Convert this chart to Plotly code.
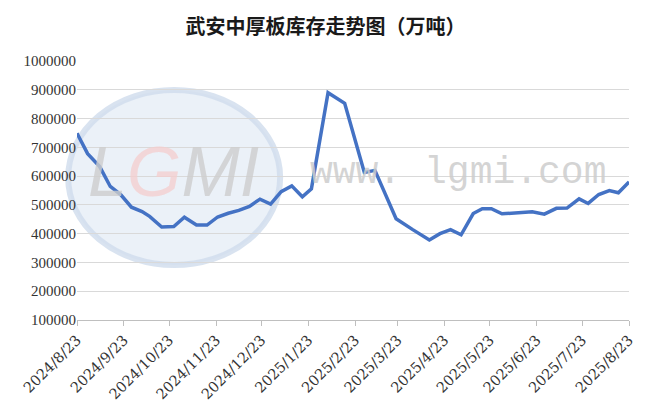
import plotly.graph_objects as go

title_text = "武安中厚板库存走势图（万吨）"

dates = [
    "2024-08-23", "2024-08-30", "2024-09-07", "2024-09-14", "2024-09-21", "2024-09-28",
    "2024-10-05", "2024-10-10", "2024-10-18", "2024-10-26", "2024-11-02", "2024-11-10",
    "2024-11-17", "2024-11-24", "2024-12-01", "2024-12-08", "2024-12-15", "2024-12-22",
    "2024-12-29", "2025-01-05", "2025-01-12", "2025-01-19", "2025-01-25", "2025-02-05",
    "2025-02-16", "2025-03-01", "2025-03-08", "2025-03-22", "2025-04-02", "2025-04-13",
    "2025-04-20", "2025-04-27", "2025-05-04", "2025-05-12", "2025-05-18", "2025-05-24",
    "2025-05-31", "2025-06-10", "2025-06-20", "2025-06-28", "2025-07-06", "2025-07-13",
    "2025-07-21", "2025-07-27", "2025-08-03", "2025-08-10", "2025-08-16", "2025-08-23",
]

inventory = [
    749000, 678000, 633000, 564000, 535000, 492000,
    477000, 460000, 423000, 425000, 457000, 430000,
    430000, 458000, 471000, 481000, 495000, 520000,
    503000, 546000, 566000, 528000, 556000, 890000,
    853000, 613000, 620000, 452000, 414000, 378000,
    400000, 414000, 396000, 470000, 487000, 487000,
    469000, 472000, 476000, 468000, 488000, 489000,
    521000, 505000, 536000, 550000, 542000, 580000,
]

tick_dates = [
    "2024-08-23", "2024-09-23", "2024-10-23", "2024-11-23", "2024-12-23", "2025-01-23",
    "2025-02-23", "2025-03-23", "2025-04-23", "2025-05-23", "2025-06-23", "2025-07-23",
    "2025-08-23",
]
tick_labels = [
    "2024/8/23", "2024/9/23", "2024/10/23", "2024/11/23", "2024/12/23", "2025/1/23",
    "2025/2/23", "2025/3/23", "2025/4/23", "2025/5/23", "2025/6/23", "2025/7/23",
    "2025/8/23",
]

y_ticks = [100000, 200000, 300000, 400000, 500000, 600000, 700000, 800000, 900000, 1000000]

fig = go.Figure()
fig.add_trace(go.Scatter(
    x=dates, y=inventory, mode="lines",
    line=dict(color="#4472C4", width=3.5),
    showlegend=False, hoverinfo="x+y",
))

# watermark (decorative)
fig.add_shape(type="circle", xref="paper", yref="paper",
              x0=-0.016, x1=0.368, y0=0.212, y1=0.888,
              fillcolor="rgba(222,231,243,0.6)",
              line=dict(color="rgba(208,220,236,0.8)", width=6), layer="below")
fig.add_annotation(xref="paper", yref="paper", x=0.175, y=0.57,
                   xanchor="center", yanchor="middle",
                   text="<i>L<span style='color:rgba(245,205,205,0.95)'>G</span>MI</i>",
                   showarrow=False,
                   font=dict(family="Liberation Sans", size=70, color="rgba(205,205,205,0.8)"))
fig.add_annotation(xref="paper", yref="paper", x=0.69, y=0.57,
                   xanchor="center", yanchor="middle",
                   text="www. lgmi.com", showarrow=False,
                   font=dict(family="Liberation Mono", size=38, color="rgba(205,205,205,0.85)"))

fig.update_layout(
    width=660, height=405,
    margin=dict(l=69, r=39, t=53, b=93),
    paper_bgcolor="white", plot_bgcolor="white",
    title=dict(text="<b>" + title_text + "</b>", x=0.481, xref="container", xanchor="center",
               y=0.953, yref="container", yanchor="middle",
               font=dict(family="Noto Sans CJK SC", size=20, color="#1a1a1a")),
    xaxis=dict(
        type="date", range=["2024-08-23", "2025-08-23"], automargin=False,
        tickmode="array", tickvals=tick_dates, ticktext=tick_labels,
        tickangle=-45, ticks="outside", ticklen=5, tickcolor="#bfbfbf",
        showline=True, linecolor="#bfbfbf", linewidth=1, showgrid=False,
        tickfont=dict(family="DejaVu Serif", size=14.5, color="#333333"),
    ),
    yaxis=dict(
        range=[100000, 1000000], tickmode="array", tickvals=y_ticks, automargin=False,
        ticktext=[str(v) for v in y_ticks],
        showgrid=True, gridcolor="#d9d9d9", gridwidth=1, zeroline=False, showline=False,
        ticks="", tickfont=dict(family="Liberation Serif", size=15, color="#333333"),
    ),
)

fig.write_html("out.html")
